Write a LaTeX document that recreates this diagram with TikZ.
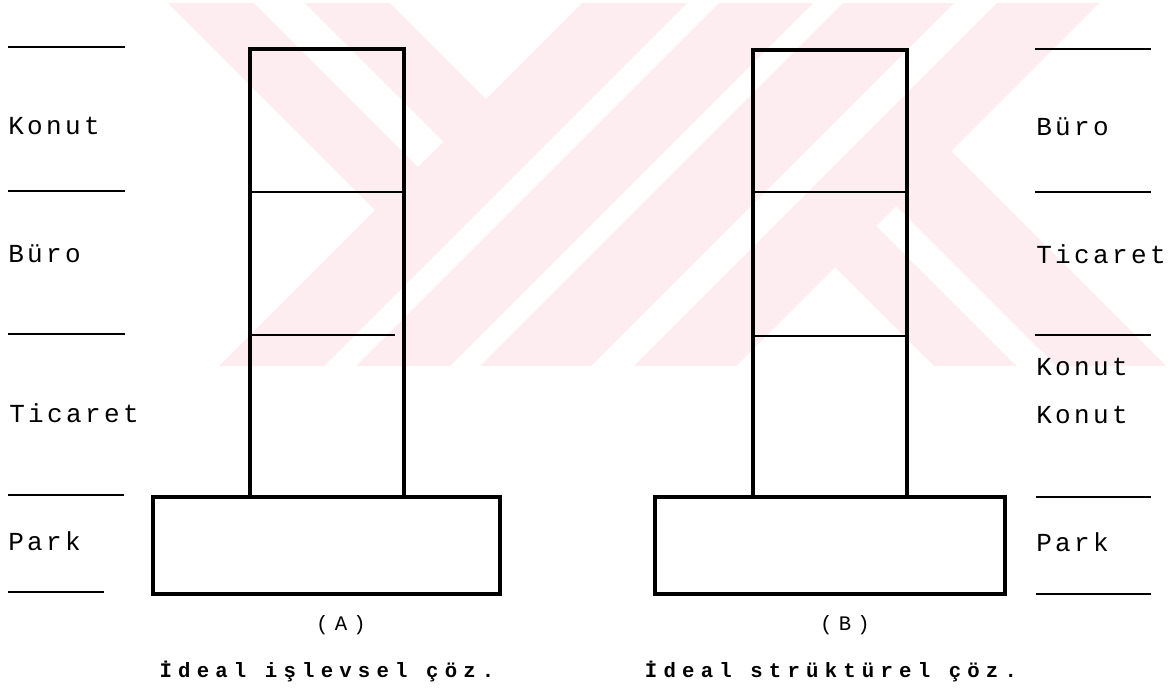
\documentclass[tikz,border=0pt]{standalone}
\usepackage{fontspec}
\newfontfamily\lblfont[LetterSpace=13]{Liberation Mono}
\newfontfamily\parfont[LetterSpace=30]{Liberation Mono}
\newfontfamily\capfont[LetterSpace=30]{Liberation Mono Bold}
\definecolor{wmpink}{RGB}{253,236,240}
\tikzset{
  wm/.style={fill=wmpink, draw=none},
  outline/.style={draw=black, line width=3pt, line join=miter},
  divider/.style={draw=black, line width=1.3pt},
  slotline/.style={draw=black, line width=1.4pt},
  lbl/.style={anchor=base west, inner sep=0pt, font=\lblfont\fontsize{19.5pt}{20pt}\selectfont},
  partext/.style={anchor=base, inner sep=0pt, font=\parfont\fontsize{15.5pt}{16pt}\selectfont},
  captext/.style={anchor=base, inner sep=0pt, font=\capfont\fontsize{15.5pt}{16pt}\selectfont}
}
\begin{document}
\begin{tikzpicture}[x=0.75pt,y=-0.75pt]
\useasboundingbox (0,0) rectangle (1173,687);
% watermark
\fill[wm] (168,3)--(254,3)--(425.5,174.5)--(382.5,217.5)--cycle;
\fill[wm] (305,3)--(390,3)--(493.5,106.5)--(451,149)--cycle;
\fill[wm] (582,3)--(687,3)--(324,366)--(219,366)--cycle;
\fill[wm] (719,3)--(813,3)--(450,366)--(356,366)--cycle;
\fill[wm] (843,3)--(954,3)--(591,366)--(480,366)--cycle;
\fill[wm] (997,3)--(1099,3)--(736,366)--(634,366)--cycle;
\fill[wm] (833,265)--(874,224)--(1016,366)--(934,366)--cycle;
\fill[wm] (894,204)--(949,149)--(1166,366)--(1056,366)--cycle;
% left slot lines
\draw[slotline] (8,47)--(125,47);
\draw[slotline] (8,191)--(125,191);
\draw[slotline] (8,334)--(125,334);
\draw[slotline] (8,495)--(124,495);
\draw[slotline] (8,592)--(104,592);
% right slot lines
\draw[slotline] (1035,49)--(1151,49);
\draw[slotline] (1035,192)--(1151,192);
\draw[slotline] (1035,335)--(1151,335);
\draw[slotline] (1036,497)--(1151,497);
\draw[slotline] (1036,594)--(1151,594);
% building A
\draw[divider] (250,192)--(403.5,192);
\draw[divider] (250,335)--(395,335);
\draw[outline] (250,49) rectangle (403.5,497);
\draw[outline] (152.5,497) rectangle (500,594);
% building B
\draw[divider] (752.5,192)--(907,192);
\draw[divider] (752.5,336)--(907,336);
\draw[outline] (752.5,50) rectangle (907,497);
\draw[outline] (655,497) rectangle (1005,594);
% left labels
\node[lbl] (lkonut) at (8,134) {Konut};
\node[lbl] (lburo) at (8,262) {Büro};
\node[lbl] (lticaret) at (9,422) {Ticaret};
\node[lbl] (lpark) at (8,550) {Park};
% right labels
\node[lbl] (rburo) at (1036,135) {Büro};
\node[lbl] (rticaret) at (1036,263) {Ticaret};
\node[lbl] (rkonut1) at (1036,375) {Konut};
\node[lbl] (rkonut2) at (1036,423) {Konut};
\node[lbl] (rpark) at (1036,551) {Park};
% captions
\node[partext] (pa) at (341,630) {(A)};
\node[partext] (pb) at (845,630) {(B)};
\node[captext] (ca) at (327,677) {İdeal işlevsel çöz.};
\node[captext] (cb) at (831,677) {İdeal strüktürel çöz.};
\end{tikzpicture}
\end{document}
